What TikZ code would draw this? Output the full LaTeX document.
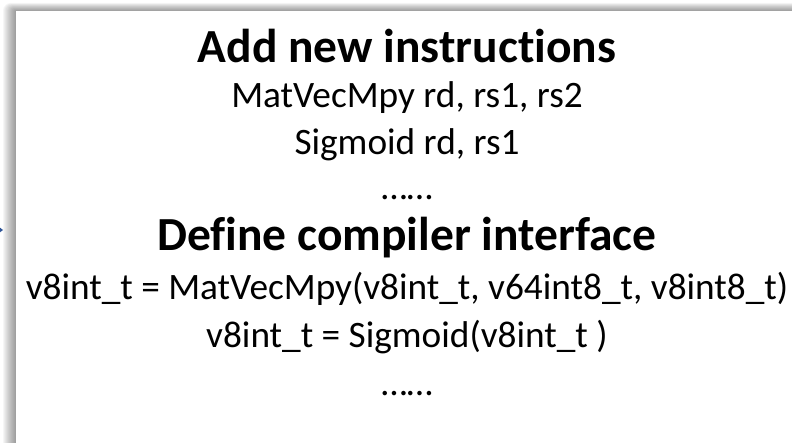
\documentclass[tikz,border=0pt]{standalone}
\usepackage{fontspec}
\setmainfont{Carlito}[RawFeature={-liga;-clig}]
\definecolor{arrowblue}{HTML}{2F5597}
\tikzset{
  titletext/.style={anchor=base, inner sep=0pt, font=\fontsize{47.5}{56}\selectfont\bfseries},
  bodytext/.style={anchor=base, inner sep=0pt, font=\fontsize{37.3}{44}\selectfont},
}
\begin{document}
\begin{tikzpicture}[x=1pt,y=-1pt]
\useasboundingbox (0,0) rectangle (792,443);
% shadow
\foreach \i in {1,...,13}{
  \fill[black, opacity=0.035, rounded corners=\i*0.6pt] ({16-\i},{11-\i*0.62}) rectangle (820,470);
}
\fill[white] (16,11) rectangle (820,470);
% small arrow tip at left
\fill[arrowblue] (-6,223) -- (3,230) -- (-6,237) -- cycle;
% texts
\node[titletext] (t1) at (407,63) {Add new instructions};
\node[bodytext] (l1) at (407,108) {MatVecMpy rd, rs1, rs2};
\node[bodytext] (l2) at (407,155) {Sigmoid rd, rs1};
\node[bodytext] (d1) at (407,200) {……};
\node[titletext] (t2) at (407,251) {Define compiler interface};
\node[bodytext] (l3) at (407,300) {v8int\_t = MatVecMpy(v8int\_t, v64int8\_t, v8int8\_t)};
\node[bodytext] (l4) at (407,348) {v8int\_t = Sigmoid(v8int\_t )};
\node[bodytext] (d2) at (407,395) {……};
\end{tikzpicture}
\end{document}
